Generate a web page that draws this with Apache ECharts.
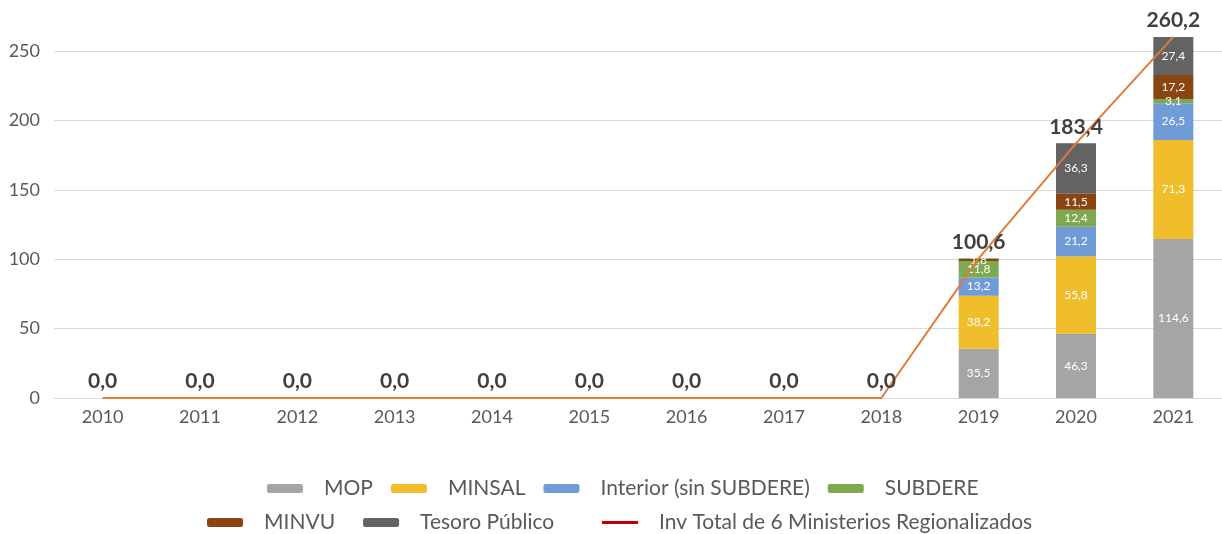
<!DOCTYPE html>
<html>
<head>
<meta charset="utf-8">
<script src="https://cdn.jsdelivr.net/npm/echarts@6/dist/echarts.min.js"></script>
<style>
  html, body { margin: 0; padding: 0; background: #fff; }
  #chart { width: 1222px; height: 534px; }
</style>
</head>
<body>
<div id="chart"></div>
<script>
// categorías (años)
const years = ['2010', '2011', '2012', '2013', '2014', '2015', '2016', '2017', '2018', '2019', '2020', '2021']
// inversión por ministerio (MM$)
const mop = [0, 0, 0, 0, 0, 0, 0, 0, 0, 35.5, 46.3, 114.6]
const minsal = [0, 0, 0, 0, 0, 0, 0, 0, 0, 38.2, 55.8, 71.3]
const interior = [0, 0, 0, 0, 0, 0, 0, 0, 0, 13.2, 21.2, 26.5]
const subdere = [0, 0, 0, 0, 0, 0, 0, 0, 0, 11.8, 12.4, 3.1]
const minvu = [0, 0, 0, 0, 0, 0, 0, 0, 0, 1.8, 11.5, 17.2]
const tesoro = [0, 0, 0, 0, 0, 0, 0, 0, 0, 0, 36.3, 27.4]
const total = [0, 0, 0, 0, 0, 0, 0, 0, 0, 100.6, 183.4, 260.2]

const fmt = v => v.toFixed(1).replace('.', ',')
const font = 'Lato'
const legendText = { color: '#595959', fontSize: 21, fontFamily: font, padding: [0, 0, 0, 16] }

function barSeries(name, data, color) {
  return {
    name: name,
    type: 'bar',
    stack: 'total',
    data: data,
    barWidth: 40,
    clip: false,
    itemStyle: { color: color },
    label: {
      show: true,
      color: '#fff',
      fontSize: 12,
      fontFamily: font,
      formatter: p => (p.value > 0 ? fmt(p.value) : '')
    }
  }
}

const chart = echarts.init(document.getElementById('chart'))
chart.setOption({
  animation: false,
  textStyle: { fontFamily: font },
  grid: { top: 51, bottom: 136, left: 54, right: -7, containLabel: false },
  legend: [
    {
      data: ['MOP', 'MINSAL', 'Interior (sin SUBDERE)', 'SUBDERE'],
      top: 473, left: 262,
      itemWidth: 36, itemHeight: 9, itemGap: 18,
      textStyle: legendText
    },
    {
      data: ['MINVU', 'Tesoro Público'],
      top: 507, left: 202,
      itemWidth: 36, itemHeight: 9, itemGap: 28,
      textStyle: legendText
    },
    {
      data: ['Inv Total de 6 Ministerios Regionalizados'],
      top: 507, left: 597,
      icon: 'rect',
      itemWidth: 36, itemHeight: 3,
      textStyle: legendText
    }
  ],
  xAxis: {
    type: 'category',
    data: years,
    axisLine: { show: true, lineStyle: { color: '#d9d9d9' } },
    axisTick: { show: false },
    axisLabel: { color: '#595959', fontSize: 18, fontFamily: font, margin: 10 }
  },
  yAxis: {
    type: 'value',
    min: 0, max: 250, interval: 50,
    axisLine: { show: false },
    axisTick: { show: false },
    splitLine: { lineStyle: { color: '#d9d9d9' } },
    axisLabel: { color: '#595959', fontSize: 18, fontFamily: font, margin: 14 }
  },
  series: [
    barSeries('MOP', mop, '#a5a5a5'),
    barSeries('MINSAL', minsal, '#f0bd2b'),
    barSeries('Interior (sin SUBDERE)', interior, '#6f9bd6'),
    barSeries('SUBDERE', subdere, '#7fa94f'),
    barSeries('MINVU', minvu, '#8b4513'),
    barSeries('Tesoro Público', tesoro, '#636363'),
    {
      name: 'Inv Total de 6 Ministerios Regionalizados',
      type: 'line',
      data: total,
      clip: false,
      symbol: 'circle',
      symbolSize: 0.1,
      showSymbol: true,
      lineStyle: { color: '#e07b39', width: 2 },
      itemStyle: { color: '#c00000' },
      z: 5,
      label: {
        show: true,
        position: 'top',
        distance: 6,
        color: '#404040',
        fontSize: 21,
        fontWeight: 'bold',
        fontFamily: font,
        formatter: p => fmt(p.value)
      }
    }
  ]
})
</script>
</body>
</html>
